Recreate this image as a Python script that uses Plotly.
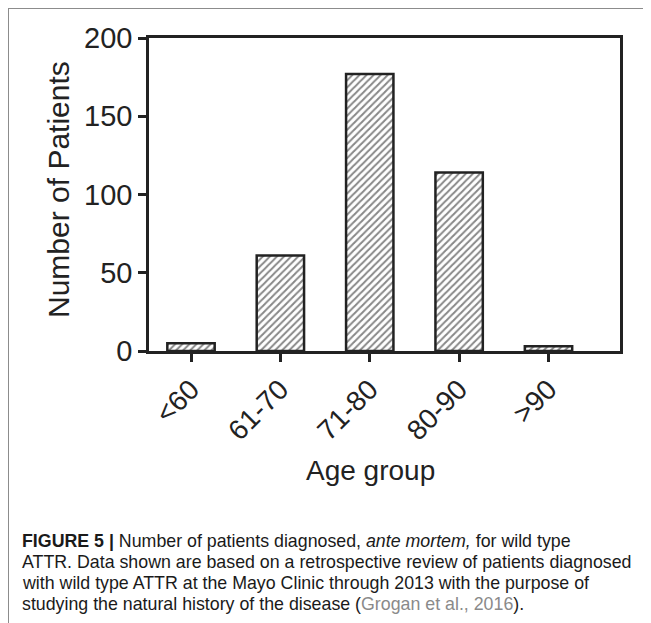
import plotly.graph_objects as go

# ---- data ----
age_groups = ["<60", "61-70", "71-80", "80-90", ">90"]
patients = [5, 61, 177, 114, 3]
y_ticks = [0, 50, 100, 150, 200]

caption_lines = [
    "<b>FIGURE 5 |</b> Number of patients diagnosed, <i>ante mortem,</i> for wild type",
    "ATTR. Data shown are based on a retrospective review of patients diagnosed",
    "with wild type ATTR at the Mayo Clinic through 2013 with the purpose of",
    "studying the natural history of the disease (<span style='color:#8a8a8a'>Grogan et al., 2016</span>).",
]

# page body has an 8px margin: work in reference-pixel coords and shift
OFF = 8
W, H = 651 - OFF, 623 - OFF
L, R, T, B = 149 - OFF, 620 - OFF, 38 - OFF, 351 - OFF  # plot area in figure pixels


def px_x(x):
    return (x - OFF - L) / (R - L)


def px_y(y):
    return (B - (y - OFF)) / (B - T)


FONT = "Liberation Sans, Arial, sans-serif"
INK = "#222222"

fig = go.Figure(
    go.Bar(
        x=age_groups,
        y=patients,
        width=0.53,
        marker=dict(
            color="white",
            line=dict(color=INK, width=2.5),
            pattern=dict(shape="/", size=5, solidity=0.4, fgcolor="#111111", bgcolor="white", fillmode="overlay"),
        ),
    )
)

fig.update_layout(
    width=W,
    height=H,
    margin=dict(l=L, r=W - R, t=T, b=H - B, pad=0),
    paper_bgcolor="white",
    plot_bgcolor="white",
    showlegend=False,
    font=dict(family=FONT, color=INK),
)

fig.update_xaxes(
    type="category",
    range=[-0.47, 4.80],
    showline=True,
    linecolor=INK,
    linewidth=2.5,
    mirror=True,
    ticks="outside",
    ticklen=8,
    tickwidth=2.5,
    tickcolor=INK,
    tickangle=-45,
    tickfont=dict(size=28, color=INK),
    showgrid=False,
)
fig.update_yaxes(
    range=[0, 200],
    tickvals=y_ticks,
    showline=True,
    linecolor=INK,
    linewidth=2.5,
    mirror=True,
    ticks="outside",
    ticklen=8,
    tickwidth=2.5,
    tickcolor=INK,
    tickfont=dict(size=29, color=INK),
    showgrid=False,
    zeroline=False,
)

annotations = [
    dict(text="Number of Patients", x=px_x(58), y=px_y(190), xref="paper", yref="paper",
         textangle=-90, showarrow=False, font=dict(size=30, color=INK),
         xanchor="center", yanchor="middle"),
    dict(text="Age group", x=px_x(370), y=px_y(470), xref="paper", yref="paper",
         showarrow=False, font=dict(size=28, color=INK), xanchor="center", yanchor="middle"),
]
line_y = [541, 562, 583, 604]
for txt, yy in zip(caption_lines, line_y):
    annotations.append(dict(text=txt, x=px_x(20), y=px_y(yy), xref="paper", yref="paper",
                            showarrow=False, font=dict(size=17.8, color="#1a1a1a"),
                            xanchor="left", yanchor="middle", align="left"))
fig.update_layout(annotations=annotations)

# outer frame (left and top gray rules)
frame = dict(color="#8c8c8c", width=2)
fig.add_shape(type="line", xref="paper", yref="paper", x0=px_x(8), x1=px_x(8),
              y0=px_y(8), y1=px_y(640), line=frame)
fig.add_shape(type="line", xref="paper", yref="paper", x0=px_x(7), x1=px_x(660),
              y0=px_y(8), y1=px_y(8), line=frame)

fig.write_html("out.html")
